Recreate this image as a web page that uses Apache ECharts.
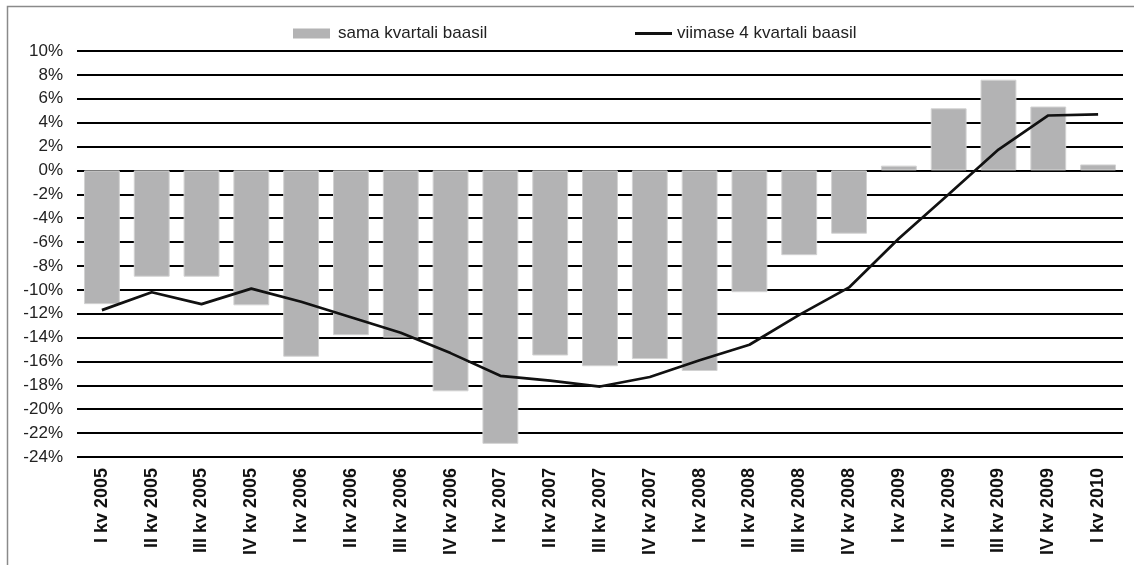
<!DOCTYPE html>
<html>
<head>
<meta charset="utf-8">
<script src="https://cdn.jsdelivr.net/npm/echarts@6/dist/echarts.min.js"></script>
<style>
html,body{margin:0;padding:0;background:#fff;}
#c{width:1134px;height:565px;}
</style>
</head>
<body>
<div id="c"></div>
<script>
var categories = ['I kv 2005','II kv 2005','III kv 2005','IV kv 2005','I kv 2006','II kv 2006','III kv 2006','IV kv 2006','I kv 2007','II kv 2007','III kv 2007','IV kv 2007','I kv 2008','II kv 2008','III kv 2008','IV kv 2008','I kv 2009','II kv 2009','III kv 2009','IV kv 2009','I kv 2010'];
var sameQuarter = [-11.2, -8.9, -8.9, -11.3, -15.6, -13.8, -14.0, -18.5, -22.9, -15.5, -16.4, -15.8, -16.8, -10.2, -7.1, -5.3, 0.4, 5.2, 7.6, 5.35, 0.5];
var last4Quarters = [-11.7, -10.2, -11.2, -9.9, -11.0, -12.3, -13.6, -15.3, -17.2, -17.6, -18.1, -17.3, -15.9, -14.6, -12.1, -9.8, -5.7, -2.0, 1.75, 4.6, 4.7];
var seriesNames = ['sama kvartali baasil', 'viimase 4 kvartali baasil'];

var chart = echarts.init(document.getElementById('c'), null, {renderer:'canvas'});
var font = 'Liberation Sans, Arial, Helvetica, sans-serif';
chart.setOption({
  animation: false,
  backgroundColor: '#fff',
  graphic: [{
    type: 'rect', left: 5, top: 4,
    shape: {x: 0, y: 0, width: 1200, height: 700},
    style: {fill: 'none', stroke: '#8a8a8a', lineWidth: 1.5},
    silent: true, z: -1
  }],
  legend: [{
    data: [{name: seriesNames[0], icon: 'rect', itemStyle: {color: '#b3b3b4', borderWidth: 0}}],
    left: 288, top: 20,
    itemWidth: 37, itemHeight: 10,
    textStyle: {fontFamily: font, fontSize: 17, color: '#222', padding: [0,0,0,3]}
  }, {
    data: [{name: seriesNames[1], icon: 'rect'}],
    left: 630, top: 20,
    itemWidth: 37, itemHeight: 3,
    textStyle: {fontFamily: font, fontSize: 17, color: '#222'}
  }],
  grid: {left: 77, right: 11, top: 51, bottom: 108, containLabel: false},
  xAxis: {
    type: 'category',
    data: categories,
    axisLine: {show: false, onZero: false},
    axisTick: {show: false},
    splitLine: {show: false},
    axisLabel: {
      rotate: 90, margin: 11, interval: 0,
      fontFamily: font, fontSize: 18, fontWeight: 'bold', color: '#111'
    }
  },
  yAxis: {
    type: 'value',
    min: -24, max: 10, interval: 2,
    axisLine: {show: false},
    axisTick: {show: false},
    splitLine: {show: true, lineStyle: {color: '#000', width: 2}},
    axisLabel: {
      margin: 14, fontFamily: font, fontSize: 17, color: '#222',
      formatter: function (v) { return v + '%'; }
    }
  },
  series: [{
    name: seriesNames[0],
    type: 'bar',
    data: sameQuarter,
    barCategoryGap: '28%',
    itemStyle: {color: '#b3b3b4', borderColor: '#d2d2d2', borderWidth: 1},
    z: 2
  }, {
    name: seriesNames[1],
    type: 'line',
    data: last4Quarters,
    showSymbol: false,
    symbol: 'none',
    lineStyle: {color: '#111', width: 2.7},
    itemStyle: {color: '#111'},
    z: 3
  }]
});
</script>
</body>
</html>
